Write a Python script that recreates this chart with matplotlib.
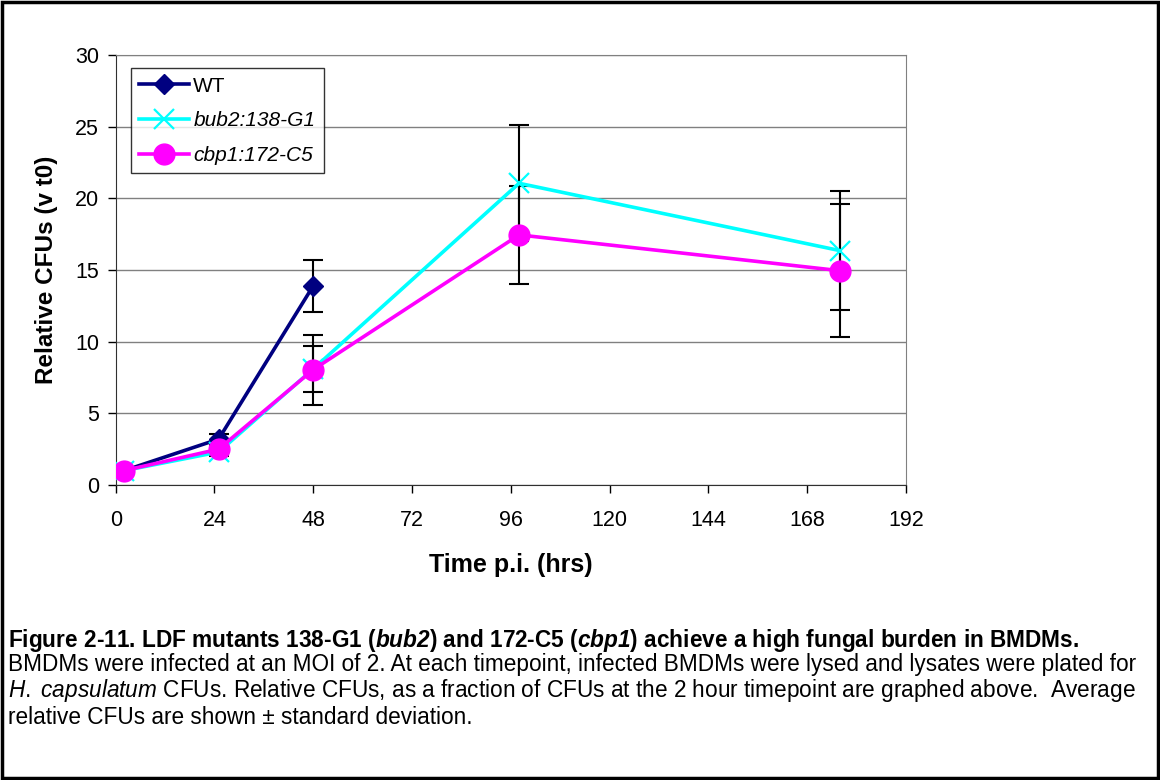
import matplotlib
matplotlib.use("Agg")
import matplotlib.pyplot as plt
from matplotlib.patches import Rectangle

plt.rcParams["font.family"] = ["Liberation Sans", "DejaVu Sans"]
plt.rcParams["mathtext.fontset"] = "custom"
plt.rcParams["mathtext.rm"] = "Liberation Sans"
plt.rcParams["mathtext.it"] = "Liberation Sans:italic"
plt.rcParams["mathtext.bf"] = "Liberation Sans:bold"
plt.rcParams["mathtext.bfit"] = "Liberation Sans:bold:italic"

# time points (hours post infection)
wt_time = [2, 25, 48]
mut_time = [2, 25, 48, 98, 176]

wt_cfu = [1.0, 3.2, 13.9]
wt_sd = [0.1, 0.35, 1.8]

bub2_cfu = [1.0, 2.3, 8.1, 21.05, 16.35]
bub2_sd = [0.1, 0.3, 1.6, 4.05, 4.15]

cbp1_cfu = [1.0, 2.5, 8.05, 17.45, 14.95]
cbp1_sd = [0.1, 0.3, 2.45, 3.4, 4.65]

x_ticks = [0, 24, 48, 72, 96, 120, 144, 168, 192]
y_ticks = [0, 5, 10, 15, 20, 25, 30]

fig = plt.figure(figsize=(11.6, 7.8), dpi=100)
ax = fig.add_axes([115.7 / 1160, 295 / 780, 790.3 / 1160, 430 / 780])

err_kw = dict(fmt="none", ecolor="black", elinewidth=1.5, capsize=7, capthick=1.5)
ax.errorbar(wt_time, wt_cfu, yerr=wt_sd, zorder=3, **err_kw)
ax.errorbar(mut_time, bub2_cfu, yerr=bub2_sd, zorder=3, **err_kw)
ax.errorbar(mut_time, cbp1_cfu, yerr=cbp1_sd, zorder=3, **err_kw)

ax.plot(wt_time, wt_cfu, color="#000080", lw=2.6, marker="D", ms=10,
        label="WT", zorder=4)
ax.plot(mut_time, bub2_cfu, color="#00ffff", lw=2.6, marker="x", ms=14,
        mew=1.6, label="bub2:138-G1", zorder=4)
ax.plot(mut_time, cbp1_cfu, color="#ff00ff", lw=2.6, marker="o", ms=15,
        label="cbp1:172-C5", zorder=5)

ax.set_xlim(0, 192)
ax.set_ylim(0, 30)
ax.set_xticks(x_ticks)
ax.set_yticks(y_ticks)
ax.tick_params(direction="out", length=6, width=1, labelsize=15.5, pad=12)
ax.tick_params(axis="y", pad=6)
ax.yaxis.grid(True, color="#808080", lw=1)
ax.set_axisbelow(True)
for side in ["top", "right"]:
    ax.spines[side].set_color("#808080")
for side in ["left", "bottom"]:
    ax.spines[side].set_color("#303030")

ax.set_xlabel("Time p.i. (hrs)", fontsize=18, fontweight="bold", labelpad=16)
ax.set_ylabel("Relative CFUs (v t0)", fontsize=17.5, fontweight="bold", labelpad=12)

leg = ax.legend(loc="upper left", bbox_to_anchor=(0.019, 0.969), fontsize=15,
                frameon=True, fancybox=False, edgecolor="black", handlelength=2.4,
                borderpad=0.4, labelspacing=0.75, handletextpad=0.2, borderaxespad=0)
leg.get_frame().set_linewidth(1)
for txt in leg.get_texts()[1:]:
    txt.set_style("italic")

# caption
cap_fs = 16.3
fig.text(8 / 1160, 1 - 640 / 780,
         r"Figure 2-11. LDF mutants 138-G1 ($\mathbfit{bub2}$) and 172-C5 ($\mathbfit{cbp1}$) achieve a high fungal burden in BMDMs.",
         fontsize=cap_fs, fontweight="bold", va="center")
fig.text(8 / 1160, 1 - 665 / 780,
         "BMDMs were infected at an MOI of 2. At each timepoint, infected BMDMs were lysed and lysates were plated for",
         fontsize=cap_fs, va="center")
fig.text(8 / 1160, 1 - 691 / 780,
         r"$\mathit{H.\ capsulatum}$ CFUs. Relative CFUs, as a fraction of CFUs at the 2 hour timepoint are graphed above.  Average",
         fontsize=cap_fs, va="center")
fig.text(8 / 1160, 1 - 717 / 780,
         "relative CFUs are shown \u00b1 standard deviation.",
         fontsize=cap_fs, va="center")

fig.patches.append(Rectangle((0.002, 0.002), 0.996, 0.995, transform=fig.transFigure,
                             fill=False, edgecolor="black", lw=2.5))

fig.savefig("out.png", dpi=100)
